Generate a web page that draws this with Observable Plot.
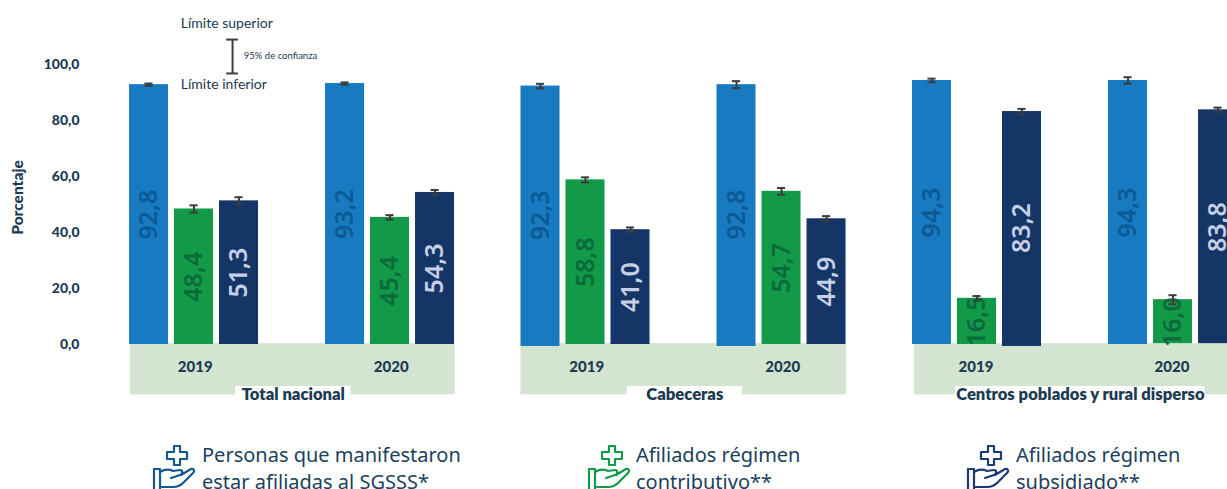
<!DOCTYPE html>
<html lang="es">
<head>
<meta charset="utf-8">
<title>Afiliación al SGSSS</title>
<script src="https://cdn.jsdelivr.net/npm/d3@7"></script>
<script src="https://cdn.jsdelivr.net/npm/@observablehq/plot@0.6"></script>
<style>
  html, body { margin: 0; padding: 0; background: #fff; overflow: hidden; }
  #chart svg { display: block; overflow: hidden; }
  #legend { position: relative; width: 1227px; height: 59px; overflow: hidden; color: #1b3f5c;
            font-family: "Noto Sans", sans-serif; font-size: 20px; line-height: 27px; }
  .item { position: absolute; top: 0; }
  .item svg { position: absolute; top: 14px; left: 0; fill: none; stroke-width: 2.2; stroke-linejoin: round; stroke-linecap: round; }
  .item div { position: absolute; top: 11px; white-space: nowrap; }
</style>
</head>
<body>
<div id="chart"></div>
<div id="legend"></div>
<script>
const panels = ["Total nacional", "Cabeceras", "Centros poblados y rural disperso"];
const years = ["2019", "2020"];
const series = ["Personas que manifestaron estar afiliadas al SGSSS*", "Afiliados régimen contributivo**", "Afiliados régimen subsidiado**"];
const values = [92.8, 48.4, 51.3, 93.2, 45.4, 54.3, 92.3, 58.8, 41.0, 92.8, 54.7, 44.9, 94.3, 16.5, 83.2, 94.3, 16.0, 83.8];
const margins = [0.4, 1.3, 1.3, 0.4, 0.8, 0.9, 0.8, 0.9, 0.8, 1.25, 1.2, 0.95, 0.65, 0.8, 0.95, 1.15, 1.6, 0.8];
const bases = [0, 0, 0, 0, 0, 0, -0.7, 0, 0, -0.7, 0, 0, 0, 0, -0.7, 0, 0.3, 0.3];
const yTicks = [0, 20, 40, 60, 80, 100];
const barColors = ["#187bc2", "#129a48", "#163567"];
const labelColors = ["#0b5a94", "#0b6a3b", "#c5cfe6"];
const ink = "#1b3a52";
const bold = "Lato, sans-serif";

// One x unit is one bar slot; groups are placed by steps in those units.
const slotPx = 45, originPx = 129, panelStep = 8.7, yearStep = 4.356, barWidth = 0.867;
const slot = (p, y, s) => p * panelStep + y * yearStep + s;

const rows = values.map((value, i) => {
  const p = Math.floor(i / 6), y = Math.floor(i / 3) % 2, s = i % 3;
  return {value, lo: value - margins[i], hi: value + margins[i], base: bases[i], s,
          x1: slot(p, y, s), x2: slot(p, y, s) + barWidth, xc: slot(p, y, s) + barWidth / 2,
          label: value.toFixed(1).replace(".", ",")};
});
const yearRows = panels.flatMap((panel, p) => years.map((year, y) => ({year, x: slot(p, y, 0) + 1.46 - (p === 2 ? 0.05 : 0) })));
const panelRows = panels.map((panel, p) => ({
  panel,
  x1: slot(p, 0, 0) + [0.02, 0, 0.044][p],
  x2: slot(p, 1, 0) + 2.88 + (p === 2 ? 0.06 : 0),
  xc: slot(p, 0, 0) + [3.64, 3.64, 3.73][p],
  w: [2.56, 2.56, 5.54][p]
}));

const capW = 0.09;
const errStyle = {stroke: "#3c3c3c", strokeWidth: 2};
const plot = Plot.plot({
  width: 1227,
  height: 430,
  marginLeft: 78,
  marginTop: 0, marginRight: 0, marginBottom: 0,
  style: {background: "#fff", color: ink},
  x: {domain: [-originPx / slotPx, (1227 - originPx) / slotPx], range: [0, 1227], axis: null},
  y: {domain: [-18, 120], range: [394.4, 8], axis: null},
  marks: [
    Plot.rect(panelRows, {x1: "x1", x2: "x2", y1: -18, y2: 0.3, fill: "#d3e4d0"}),
    Plot.rect(panelRows, {x1: d => d.xc - d.w / 2, x2: d => d.xc + d.w / 2, y1: -23, y2: -15, fill: "#fff"}),
    Plot.rect(rows, {x1: "x1", x2: "x2", y1: "base", y2: "value", fill: d => barColors[d.s]}),
    Plot.text(rows, {x: "xc", y: d => d.value / 2, text: "label", rotate: -90, fill: d => labelColors[d.s],
      fontFamily: "'Noto Sans', sans-serif", fontSize: 25, fontWeight: 600}),
    Plot.ruleX(rows, {x: "xc", y1: "lo", y2: "hi", ...errStyle}),
    Plot.ruleY(rows, {y: "lo", x1: d => d.xc - capW, x2: d => d.xc + capW, ...errStyle}),
    Plot.ruleY(rows, {y: "hi", x1: d => d.xc - capW, x2: d => d.xc + capW, ...errStyle}),
    Plot.axisY({ticks: yTicks, tickSize: 0, tickPadding: -1, label: null, tickFormat: d => d.toFixed(1).replace(".", ","),
      fontFamily: bold, fontSize: 14, fontWeight: 900, fill: ink}),
    Plot.text(["Porcentaje"], {x: -2.47, y: 52.5, rotate: -90, fontFamily: bold, fontSize: 15.5, fontWeight: 900, fill: ink}),
    Plot.text(yearRows, {x: "x", y: -8.2, text: "year", fontFamily: bold, fontSize: 15, fontWeight: 900, fill: ink}),
    Plot.text(panelRows, {x: "xc", y: -17.9, text: "panel", fontFamily: bold, fontSize: 16.6, fontWeight: 800, fill: ink}),
    Plot.text(["Límite superior"], {x: 1.14, y: 114.6, textAnchor: "start", fontFamily: bold, fontSize: 14, fill: ink}),
    Plot.text(["Límite inferior"], {x: 1.14, y: 92.8, textAnchor: "start", fontFamily: bold, fontSize: 14, fill: ink}),
    Plot.text(["95% de confianza"], {x: 2.54, y: 103.2, textAnchor: "start", fontFamily: bold, fontSize: 9.5, fill: ink}),
    Plot.ruleX([2.29], {y1: 96.8, y2: 108.9, stroke: "#3c3c3c", strokeWidth: 2}),
    Plot.ruleY([96.8, 108.9], {x1: 2.16, x2: 2.42, stroke: "#3c3c3c", strokeWidth: 2})
  ]
});
document.getElementById("chart").append(plot);

const legendColors = ["#14588f", "#129a48", "#1c3a73"];
const legendLines = [["Personas que manifestaron", "estar afiliadas al SGSSS*"], ["Afiliados régimen", "contributivo**"], ["Afiliados régimen", "subsidiado**"]];
const legendLeft = [152, 587, 966];
const legendText = [50, 49, 50];
const legend = document.getElementById("legend");
legendLines.forEach((lines, i) => {
  const item = document.createElement("div");
  item.className = "item";
  item.style.left = legendLeft[i] + "px";
  item.innerHTML = `<svg width="44" height="46" viewBox="0 0 44 46" stroke="${legendColors[i]}">
      <path d="M22 2h6v6h7v7h-7v6h-6v-6h-7V8h7z"/>
      <path d="M2 46V25h6v21M8 28c5-3 9-3 13-1l7-1c3 0 3 4 0 5l-9 3M29 31l10-6c3-1 4 2 2 4l-10 10c-3 3-6 4-10 4H8"/>
    </svg><div style="left:${legendText[i]}px">${lines.join("<br>")}</div>`;
  legend.append(item);
});
</script>
</body>
</html>
